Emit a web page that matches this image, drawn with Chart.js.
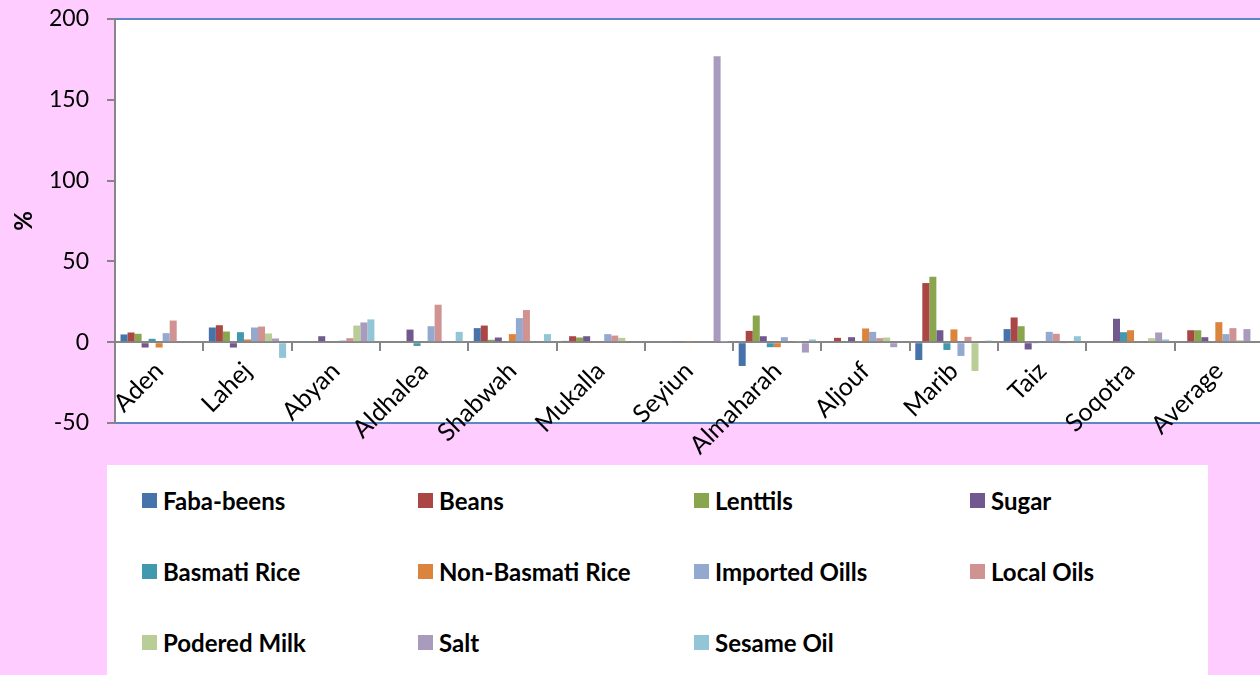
<!DOCTYPE html>
<html>
<head>
<meta charset="utf-8">
<script src="https://cdn.jsdelivr.net/npm/chart.js@4.4.1/dist/chart.umd.min.js"></script>
<style>
    html, body { margin: 0; padding: 0; width: 1260px; height: 675px; overflow: hidden; background: #FFCCFF; }
    #wrap { position: absolute; left: 0; top: 0; width: 1263px; height: 675px; }
    #legend {
        position: absolute; left: 107px; top: 465px; width: 1101px; height: 210px;
        background: #fff; box-sizing: border-box; padding-left: 35px;
        display: grid; grid-template-columns: repeat(4, 276px); grid-auto-rows: 71px;
        font-family: Lato, "Open Sans", sans-serif; font-weight: bold; font-size: 24px; color: #000;
    }
    #legend .item { display: flex; align-items: center; }
    #legend .box { width: 15px; height: 15px; margin-right: 6px; flex: none; }
</style>
</head>
<body>
<div id="wrap"><canvas id="barChart" width="1263" height="675"></canvas></div>
<div id="legend"></div>
<script>
// Districts along the x axis
const categories = ['Aden', 'Lahej', 'Abyan', 'Aldhalea', 'Shabwah', 'Mukalla', 'Seyiun',
    'Almaharah', 'Aljouf', 'Marib', 'Taiz', 'Soqotra', 'Average'];

// Percent change per commodity
const fabaBeens    = [4.8, 9.1, 0, 0, 8.7, 0.8, 0, -14.7, 0, -11, 8.1, 0, 0];
const beans        = [6.0, 10.5, 0, 0, 10.3, 3.7, 0, 7.0, 2.7, 36.6, 15.3, 0, 7.4];
const lentils      = [5.2, 6.6, 0, 0, 1.5, 2.9, 0, 16.5, 0, 40.5, 9.9, 0, 7.4];
const sugar        = [-3.3, -3.3, 3.7, 7.8, 2.9, 3.7, 0.5, 3.7, 3.1, 7.4, -4.5, 14.5, 3.1];
const basmatiRice  = [2.1, 6.2, 0, -2.3, 0, 0, 0, -3.1, 0, -4.8, -0.7, 6.2, 0];
const nonBasmati   = [-3.3, 1.7, 0, 0, 5.0, 0, 0.3, -3.1, 8.5, 7.9, 0, 7.4, 12.4];
const importedOils = [5.6, 9.1, 1.0, 9.9, 14.9, 5.0, 0, 3.1, 6.4, -8.5, 6.4, 0, 5.0];
const localOils    = [13.4, 9.7, 2.5, 23.2, 19.9, 4.1, 0, 0, 2.5, 3.3, 5.2, 0, 8.7];
const poderedMilk  = [0, 5.4, 10.3, 0, 0, 2.7, 0, 0.5, 2.9, -17.8, -0.5, 2.5, 1.2];
const salt         = [0, 2.3, 12.2, 0, 0, 0, 177, -6.4, -3.1, 0, 0, 6.0, 8.1];
const sesameOil    = [0, -9.7, 14.1, 6.4, 5.0, 0, 0.3, 1.7, 0, 1.0, 3.7, 1.7, 0];

const seriesNames = ['Faba-beens', 'Beans', 'Lenttils', 'Sugar', 'Basmati Rice', 'Non-Basmati Rice',
    'Imported Oills', 'Local Oils', 'Podered Milk', 'Salt', 'Sesame Oil'];
const seriesData = [fabaBeens, beans, lentils, sugar, basmatiRice, nonBasmati,
    importedOils, localOils, poderedMilk, salt, sesameOil];
const seriesColors = ['#4673AA', '#AA4643', '#89A54E', '#71588F', '#4198AF', '#DB843D',
    '#93A9CF', '#D19392', '#B9CD96', '#A99BBD', '#92C5D5'];

const yTicks = [-50, 0, 50, 100, 150, 200];

// white plot area with blue frame
const plotFrame = {
    id: 'plotFrame',
    beforeDraw(chart) {
        const { ctx, chartArea: a } = chart;
        ctx.save();
        ctx.fillStyle = '#fff';
        ctx.fillRect(a.left, a.top, a.right - a.left, a.bottom - a.top);
        ctx.strokeStyle = '#5B87C5';
        ctx.lineWidth = 2;
        ctx.strokeRect(a.left, a.top, a.right - a.left, a.bottom - a.top);
        ctx.restore();
    }
};

const ctx = document.getElementById('barChart').getContext('2d');
const barChart = new Chart(ctx, {
    type: 'bar',
    data: {
        labels: categories,
        datasets: seriesNames.map((name, i) => ({
            label: name,
            data: seriesData[i],
            backgroundColor: seriesColors[i],
            borderWidth: 0,
            categoryPercentage: 0.875,
            barPercentage: 1
        }))
    },
    options: {
        responsive: false,
        animation: false,
        layout: { padding: { top: 19, bottom: 252, left: 0, right: 0 } },
        plugins: { legend: { display: false }, tooltip: { enabled: false } },
        scales: {
            x: {
                position: { y: 0 },
                grid: { offset: true, drawOnChartArea: false, drawTicks: true, tickLength: 8, color: '#868686', lineWidth: 2 },
                border: { color: '#868686', width: 2 },
                ticks: {
                    autoSkip: false, minRotation: 45, maxRotation: 45, padding: 6,
                    color: '#000', font: { family: 'Lato', size: 25 }
                }
            },
            y: {
                min: -50, max: 200,
                afterFit(scale) {
                    scale.width = 115;
                    scale.paddingTop = 0;
                    scale.paddingBottom = 0;
                },
                afterBuildTicks(scale) { scale.ticks = yTicks.map(v => ({ value: v })); },
                grid: { drawOnChartArea: false, drawTicks: true, tickLength: 8, color: '#868686', lineWidth: 2 },
                border: { color: '#868686', width: 2 },
                ticks: { padding: 18, color: '#000', font: { family: 'Lato', size: 23 } },
                title: { display: true, text: '%', color: '#000', font: { family: 'Lato', size: 24, weight: 'bold' }, padding: { top: 10, bottom: 0 } }
            }
        }
    },
    plugins: [plotFrame]
});

// legend laid out in four columns like the original
const legend = document.getElementById('legend');
seriesNames.forEach((name, i) => {
    const item = document.createElement('div');
    item.className = 'item';
    const box = document.createElement('span');
    box.className = 'box';
    box.style.background = seriesColors[i];
    const label = document.createElement('span');
    label.textContent = name;
    item.appendChild(box);
    item.appendChild(label);
    legend.appendChild(item);
});
</script>
</body>
</html>
